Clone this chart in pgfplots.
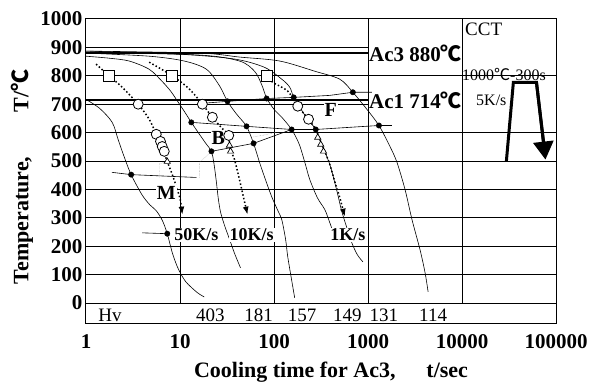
\documentclass[border=0pt]{standalone}
\usepackage{fontspec}
\setmainfont{Liberation Serif}
\newfontfamily\cjk{Noto Sans CJK SC}
\usepackage{pgfplots}
\pgfplotsset{compat=1.18}
\usetikzlibrary{arrows.meta}
\newcommand{\dc}{{\cjk ℃}}
\begin{document}
\begin{tikzpicture}
\begin{axis}[
  scale only axis, width=470pt, height=305pt,
  xmode=log, xmin=1, xmax=100000, ymin=-74, ymax=1000,
  xtick={1,10,100,1000,10000,100000},
  xticklabels={1,10,100,1000,10000,100000},
  ytick={0,100,200,300,400,500,600,700,800,900,1000},
  yticklabels={0,100,200,300,400,500,600,700,800,900,1000},
  major tick length=0pt, minor tick length=0pt,
  ticklabel style={font=\fontsize{21}{21}\selectfont\bfseries},
  xticklabel style={yshift=-7pt},
  axis line style={line width=1pt},
  clip=true,
]
% grid
\pgfplotsinvokeforeach{0,100,200,300,400,500,600,800}{
  \draw[line width=0.7pt] (axis cs:1,#1) -- (axis cs:100000,#1);
}
\pgfplotsinvokeforeach{700,900}{
  \draw[line width=0.7pt] (axis cs:1,#1) -- (axis cs:1000,#1);
}
\pgfplotsinvokeforeach{10,100,1000,10000}{
  \draw[line width=0.7pt] (axis cs:#1,0) -- (axis cs:#1,1000);
}
% Ac3 / Ac1
\addplot[line width=1.6pt] coordinates {(1,880) (1000,880)};
\addplot[line width=1.6pt] coordinates {(1,714) (1000,714)};

% cooling curves (solid)
\addplot[line width=0.6pt, smooth] coordinates {(1,717) (1.4,685) (1.9,636) (2.2,575) (2.54,516) (3.02,452) (3.96,380) (4.8,345) (5.59,325) (6.5,290) (7.32,244) (8.28,177) (9.3,130) (10.3,100) (11.5,75) (13.2,55) (15.5,35) (18.1,21)};
\addplot[line width=0.6pt, smooth] coordinates {(1,869) (1.76,862) (2.88,852) (4.7,823) (6.47,780) (8,745) (9.13,717) (11.1,675) (13.2,636) (16.1,594) (19,560) (21.6,534) (23,490) (24.3,430) (25.5,370) (27,320) (30,270) (33.6,225) (38,175) (44,124)};
\addplot[line width=0.6pt, smooth] coordinates {(1,880) (4.7,869) (11.1,852) (19.1,823) (26.3,765) (32,710) (40,665) (51,622) (60.6,562) (70.2,495) (80,440) (94.3,375) (110,325) (121,293) (133,223) (140,163) (154,81) (166,18)};
\addplot[line width=0.6pt, smooth] coordinates {(1,883) (16.1,873) (42.9,852) (62.1,816) (73.7,770) (83.4,722) (100,682) (121,654) (154,611) (185,560) (215,490) (240,435) (290,370) (347,329) (392,283) (410,265)};
\addplot[line width=0.6pt, smooth] coordinates {(1,887) (9.83,876) (38,859) (79,830) (121,788) (147,760) (162,724) (188,689) (228,647) (278,611) (322,558) (392,488) (463,399) (520,329) (581,276) (673,212) (770,170) (882,145)};
\addplot[line width=0.6pt, smooth] coordinates {(1,887) (16.1,880) (42.9,866) (115,852) (272,816) (501,788) (690,742) (973,682) (1307,625) (1713,551) (2034,495) (2480,399) (2941,293) (3580,187) (4050,106) (4360,39)};

% transformation lines
\addplot[line width=0.6pt] coordinates {(17.3,703) (32,710) (83.4,720) (162,724) (392,731) (690,742) (1100,742)};
\addplot[line width=0.6pt] coordinates {(13.2,636) (51,622) (154,611) (278,611) (1307,625) (1800,625)};
\addplot[line width=0.6pt] coordinates {(21.6,534) (60.6,562) (154,611)};
\addplot[line width=0.6pt] coordinates {(1.89,460) (3.02,452) (14.9,442)};
\addplot[line width=0.6pt] coordinates {(3.96,247) (7.32,244)};
\addplot[line width=0.4pt, gray, densely dotted] coordinates {(6.01,442) (6.01,490) (7.32,498)};
\addplot[line width=0.4pt, gray, densely dotted] coordinates {(16.1,442) (16.1,495) (21.6,534)};
\addplot[line width=0.4pt, gray, densely dotted] coordinates {(60.6,585) (80,592) (106,601)};

% cooling rate curves (dotted, with arrows)
\addplot[line width=1.5pt, dash pattern=on 1.5pt off 2.2pt, -{Latex[length=8pt,width=6pt]}, smooth] coordinates {(1.28,841) (1.76,800) (2.42,760) (3.59,700) (4.70,647) (5.59,594) (6.47,548) (7.32,498) (8.28,452) (9.36,399) (10.07,364) (10.6,311)};
\addplot[line width=1.5pt, dash pattern=on 1.5pt off 2.2pt, -{Latex[length=8pt,width=6pt]}, smooth] coordinates {(4.70,848) (8.28,800) (12.6,753) (17.3,700) (22.1,654) (28,615) (33,590) (33.6,552) (35.3,530) (38,505) (42.9,435) (48,364) (52.3,311)};
\addplot[line width=1.5pt, dash pattern=on 1.5pt off 2.2pt, -{Latex[length=8pt,width=6pt]}, smooth] coordinates {(83.4,800) (97,777) (140,746) (179,693) (233,647) (278,611) (307,576) (347,534) (392,488) (443,428) (501,371) (567,304)};

% markers
\addplot[only marks, mark=square*, mark size=5.5pt, mark options={fill=white, draw=black, line width=0.8pt}] coordinates {(1.76,800) (8.28,800) (83.4,800)};
\addplot[only marks, mark=*, mark size=5pt, mark options={fill=white, draw=black, line width=0.8pt}] coordinates {(3.59,700) (17.3,700) (179,693) (5.59,594) (6.2,569) (6.47,551) (6.8,534) (22.1,654) (33,590) (233,647)};
\addplot[only marks, mark=triangle*, mark size=3.6pt, mark options={fill=white, draw=black, line width=0.7pt}] coordinates {(7.32,498) (33.6,555) (34.5,534) (292,583) (314,558) (336,534)};
\addplot[only marks, mark=*, mark size=2.7pt, black] coordinates {(3.02,452) (7.32,244) (13.2,636) (21.6,534) (32,710) (51,622) (60.6,562) (83.4,720) (154,611) (162,724) (278,611) (690,742) (1307,625)};

% heat treatment schematic
\addplot[line width=3pt] coordinates {(29630,498) (35200,777) (61940,777) (73570,569)};
\addplot[line width=3pt, -{Triangle[length=18pt,width=20pt]}] coordinates {(61940,777) (77260,505)};

% labels
\node[anchor=west, inner sep=1pt, font=\fontsize{21}{21}\selectfont\bfseries] at (axis cs:1000,880) {Ac3 880\dc};
\node[anchor=west, inner sep=1pt, font=\fontsize{21}{21}\selectfont\bfseries] at (axis cs:1000,714) {Ac1 714\dc};
\node[anchor=west, inner sep=1pt, font=\fontsize{19}{19}\selectfont] at (axis cs:10500,965) {CCT};
\node[anchor=west, inner sep=0pt, font=\fontsize{16}{16}\selectfont] at (axis cs:10000,806) {1000\dc-300s};
\node[inner sep=0pt, font=\fontsize{16}{16}\selectfont] at (axis cs:20500,714) {5K/s};
\node[fill=white, inner sep=1pt, font=\fontsize{20}{20}\selectfont\bfseries] at (axis cs:7.14,389) {M};
\node[fill=white, inner sep=0.5pt, font=\fontsize{20}{20}\selectfont\bfseries] at (axis cs:25.5,582) {B};
\node[fill=white, inner sep=1pt, font=\fontsize{20}{20}\selectfont\bfseries] at (axis cs:402,678) {F};
\node[fill=white, inner sep=1pt, font=\fontsize{18}{18}\selectfont\bfseries] at (axis cs:14.95,240) {50K/s};
\node[fill=white, inner sep=1pt, font=\fontsize{18}{18}\selectfont\bfseries] at (axis cs:57.7,240) {10K/s};
\node[fill=white, inner sep=1pt, font=\fontsize{18}{18}\selectfont\bfseries] at (axis cs:611,240) {1K/s};
% Hv row
\node[font=\fontsize{19}{19}\selectfont] at (axis cs:1.80,-42) {Hv};
\node[font=\fontsize{19}{19}\selectfont] at (axis cs:21.1,-42) {403};
\node[font=\fontsize{19}{19}\selectfont] at (axis cs:68.5,-42) {181};
\node[font=\fontsize{19}{19}\selectfont] at (axis cs:199,-42) {157};
\node[font=\fontsize{19}{19}\selectfont] at (axis cs:603,-42) {149};
\node[font=\fontsize{19}{19}\selectfont] at (axis cs:1479,-42) {131};
\node[font=\fontsize{19}{19}\selectfont] at (axis cs:4930,-42) {114};
\end{axis}
% axis labels
\node[rotate=90, font=\fontsize{22}{22}\selectfont\bfseries] at ([shift={(-64pt,147pt)}]current axis.south west) {Temperature,\hspace{2em}T/\dc};
\node[font=\fontsize{22}{22}\selectfont\bfseries] at ([shift={(245pt,-48pt)}]current axis.south west) {Cooling time for Ac3,\hspace{1.4em}t/sec};
\pgfresetboundingbox
\path[use as bounding box] ([shift={(-86pt,-61pt)}]current axis.south west) rectangle ([shift={(510pt,324pt)}]current axis.south west);
\end{tikzpicture}
\end{document}
